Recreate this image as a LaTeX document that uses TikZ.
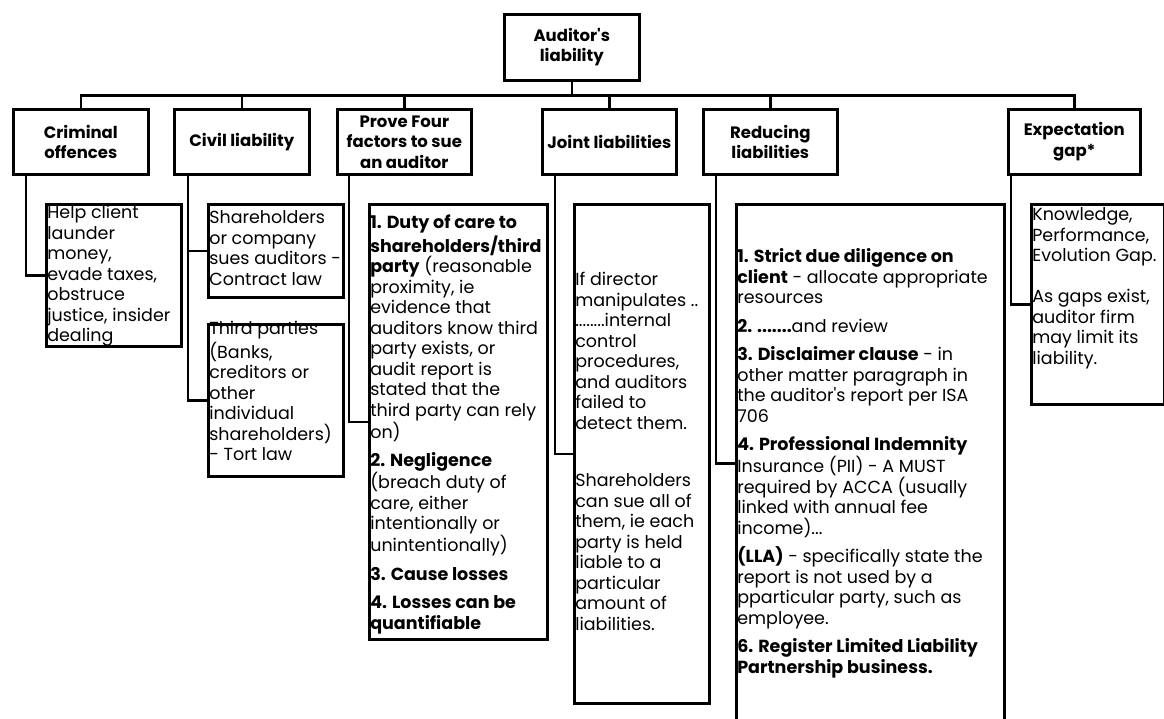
\documentclass[tikz,border=0pt]{standalone}
\usepackage{fontspec}
% family without TeX ligature mapping, so ' stays a straight quote
\newfontfamily\gfont{Poppins}
% text block of a content box: width, height, top offset, text
\newcommand{\boxtext}[4]{\parbox[c][#2][t]{#1}{\vspace*{#3}\raggedright\leftskip=1pt\relax\strut #4}}
\newcommand{\bodyfont}{\gfont\fontsize{17.5}{20.5}\selectfont}
\newcommand{\gap}{\\[8pt]}
\begin{document}
\begin{tikzpicture}[x=1pt,y=-1pt,
  frame/.style={draw, line width=2.6pt, inner sep=0pt, anchor=north west},
  headbox/.style={frame, align=center, font=\gfont\bfseries\fontsize{16.5}{20.5}\selectfont},
  textbox/.style={frame, font=\bodyfont},
  link/.style={line width=2.6pt},
]
\useasboundingbox (0,0) rectangle (1164,718);
\clip (0,0) rectangle (1164,718);

% root
\node[headbox, minimum width=135pt, minimum height=66pt] (root) at (503,13) {Auditor's\\liability};

% headers
\node[headbox, minimum width=135pt, minimum height=65pt] (crimh) at (12,108)  {Criminal\\offences};
\node[headbox, minimum width=135pt, minimum height=65pt] (civh)  at (173,108) {Civil liability};
\node[headbox, minimum width=134pt, minimum height=65pt] (proh)  at (336,108) {Prove Four\\factors to sue\\an auditor};
\node[headbox, minimum width=134pt, minimum height=65pt] (joih)  at (541,108) {Joint liabilities};
\node[headbox, minimum width=134pt, minimum height=65pt] (redh)  at (702,108) {Reducing\\liabilities};
\node[headbox, minimum width=132pt, minimum height=65pt] (exph)  at (1007,108) {Expectation\\gap*};

% content boxes
\node[textbox] (crimc) at (45,203) {\boxtext{135pt}{142pt}{0pt}{%
Help client\\launder\\money,\\evade taxes,\\obstruce\\justice, insider\\dealing}};

\node[textbox] (civa) at (207,203) {\boxtext{135pt}{93pt}{5pt}{%
Shareholders\\or company\\sues auditors -\\Contract law}};

\node[textbox] (civb) at (207,323) {\boxtext{135pt}{152pt}{-4pt}{%
Third parties\\(Banks,\\creditors or\\other\\individual\\shareholders)\\- Tort law}};

\node[textbox] (proc) at (368,203) {\boxtext{178pt}{435pt}{10pt}{%
\textbf{1. Duty of care to}\\\textbf{shareholders/third}\\\textbf{party} (reasonable\\proximity, ie\\evidence that\\auditors know third\\party exists, or\\audit report is\\stated that the\\third party can rely\\on)\gap
\textbf{2. Negligence}\\(breach duty of\\care, either\\intentionally or\\unintentionally)\gap
\textbf{3. Cause losses}\gap
\textbf{4. Losses can be}\\\textbf{quantifiable}}};

\node[textbox] (joic) at (573,203) {\boxtext{135pt}{499pt}{67pt}{%
If director\\manipulates ..\\........internal\\control\\procedures,\\and auditors\\failed to\\detect them.\\[37pt]
Shareholders\\can sue all of\\them, ie each\\party is held\\liable to a\\particular\\amount of\\liabilities.}};

% this box runs on below the lower edge of the picture
\node[textbox] (redc) at (735,203) {\boxtext{268pt}{518pt}{44pt}{%
\textbf{1. Strict due diligence on}\\\textbf{client} - allocate appropriate\\resources\gap
\textbf{2. .......}and review\gap
\textbf{3. Disclaimer clause} - in\\other matter paragraph in\\the auditor's report per ISA\\706\gap
\textbf{4. Professional Indemnity}\\Insurance (PII) - A MUST\\required by ACCA (usually\\linked with annual fee\\income)...\gap
\textbf{(LLA)} - specifically state the\\report is not used by a\\pparticular party, such as\\employee.\gap
\textbf{6. Register Limited Liability}\\\textbf{Partnership business.}}};

\node[textbox] (expc) at (1030,203) {\boxtext{133pt}{200pt}{2pt}{%
Knowledge,\\Performance,\\Evolution Gap.\\[20.5pt]
As gaps exist,\\auditor firm\\may limit its\\liability.}};

% tree connectors
\draw[link] (root.south) -- ++(0,14) coordinate (bus);
\foreach \h in {crimh,civh,proh,joih,redh,exph}
  \draw[link] (bus) -| (\h.north);

% elbow connectors from each header to its content
\draw[link] ([xshift=14pt]crimh.south west) |- (crimc.west);
\draw[link] ([xshift=15pt]civh.south west) |- (civb.west);
\draw[link] ([xshift=15pt]civh.south west |- civa.west) -- (civa.west);
\draw[link] ([xshift=13pt]proh.south west) |- (proc.west);
\draw[link] ([xshift=14pt]joih.south west) |- (joic.west);
\draw[link] ([xshift=14pt]redh.south west) |- (redc.west);
\draw[link] ([xshift=4pt]exph.south west) |- (expc.west);
\end{tikzpicture}
\end{document}
